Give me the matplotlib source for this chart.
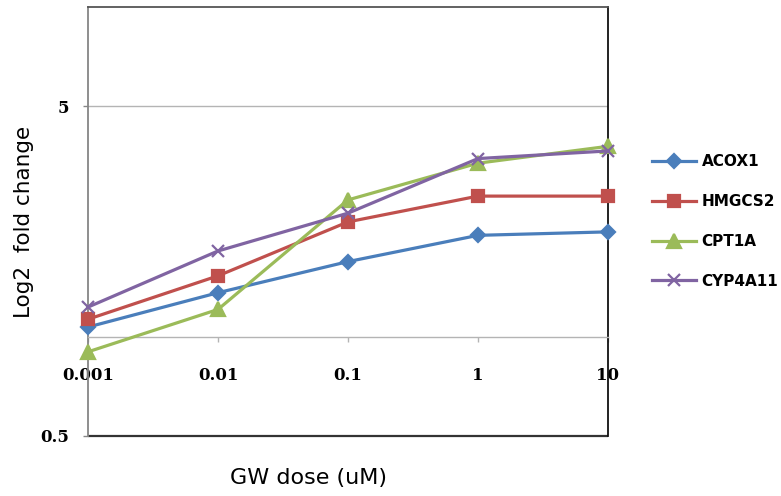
import matplotlib
matplotlib.use("Agg")
import matplotlib.pyplot as plt
from matplotlib.patches import Rectangle

# data
doses = [0.001, 0.01, 0.1, 1, 10]
dose_labels = ["0.001", "0.01", "0.1", "1", "10"]
acox1 = [1.07, 1.36, 1.69, 2.03, 2.08]
hmgcs2 = [1.13, 1.53, 2.23, 2.67, 2.67]
cpt1a = [0.90, 1.21, 2.60, 3.36, 3.78]
cyp4a11 = [1.23, 1.82, 2.37, 3.47, 3.66]
y_ticks = [0.5, 5]
y_tick_labels = ["0.5", "5"]

W, H = 781, 496
fig = plt.figure(figsize=(W / 100, H / 100), dpi=100)
ax = fig.add_axes([88 / W, (H - 436) / H, 520 / W, 429 / H])

ax.set_xscale("log")
ax.set_yscale("log")
ax.set_xlim(0.001, 10)
ax.set_ylim(0.5, 10)

series = [
    ("ACOX1", acox1, "#4A7EBB", "D", 7.5),
    ("HMGCS2", hmgcs2, "#C0504D", "s", 9),
    ("CPT1A", cpt1a, "#9BBB59", "^", 10),
    ("CYP4A11", cyp4a11, "#8064A2", "x", 9),
]
for name, vals, col, mk, ms in series:
    ax.plot(doses, vals, color=col, lw=2.3, marker=mk, ms=ms, mew=1.6,
            label=name, clip_on=False, zorder=3)

# gridline at 5 only
ax.axhline(5, color="#b4b4b4", lw=1, zorder=1)

# x axis crosses at y = 1
ax.spines["bottom"].set_position(("data", 1))
ax.spines["bottom"].set_color("#b4b4b4")
ax.spines["bottom"].set_linewidth(1)
ax.set_xticks(doses)
ax.set_xticklabels(dose_labels)
ax.yaxis.set_minor_locator(matplotlib.ticker.NullLocator())
ax.xaxis.set_minor_locator(matplotlib.ticker.NullLocator())
ax.tick_params(axis="x", direction="out", length=3.6, width=1, color="#b4b4b4",
               pad=18, labelsize=12)

ax.set_yticks(y_ticks)
ax.set_yticklabels(y_tick_labels)
ax.tick_params(axis="y", direction="out", length=3.6, width=1, color="#868686",
               pad=10, labelsize=12)
for lab in ax.get_xticklabels() + ax.get_yticklabels():
    lab.set_fontfamily("DejaVu Serif")
    lab.set_fontweight("bold")

ax.spines["left"].set_color("#868686")
ax.spines["left"].set_linewidth(1.3)
ax.spines["top"].set_color("#555555")
ax.spines["top"].set_linewidth(1.3)
ax.spines["right"].set_color("#111111")
ax.spines["right"].set_linewidth(1.3)

# plot area frame bottom edge
ax.add_patch(Rectangle((0, 0), 1, 0, transform=ax.transAxes, fill=False,
                       ec="#333333", lw=1.6, clip_on=False))

ax.set_ylabel("Log2  fold change", fontsize=15.5)
ax.yaxis.set_label_coords((34 - 88) / 520, 0.5)
ax.text((308 - 88) / 520, (436 - 478) / 429, "GW dose (uM)", fontsize=16,
        ha="center", va="center", transform=ax.transAxes)

fig.legend(loc="center left", bbox_to_anchor=(652 / W, (H - 221.5) / H),
           frameon=False, borderpad=0, borderaxespad=0, handlelength=2.9,
           handletextpad=0.35, labelspacing=1.62,
           prop={"family": "DejaVu Sans", "weight": "bold", "size": 11})

fig.savefig("out.png", dpi=100)
